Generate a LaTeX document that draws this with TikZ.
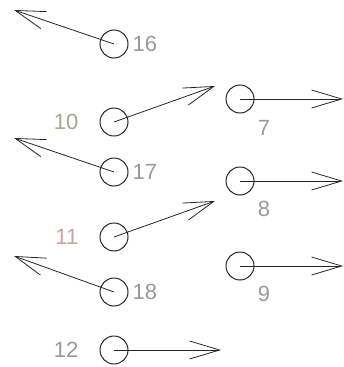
\documentclass[tikz,border=0pt]{standalone}
\usepackage{fontspec}
\setmainfont{Liberation Sans}
\usepackage{tikz}
\usetikzlibrary{positioning, arrows.meta}
\definecolor{numolive}{HTML}{A9A68E}
\definecolor{numrose}{HTML}{C9A3A0}

\begin{document}
\begin{tikzpicture}[
  x=1pt, y=-1pt,
  font=\fontsize{22}{24}\selectfont,
  pin/.style={draw=black!85, circle, line width=1pt, minimum size=28pt, inner sep=0pt},
  num/.style={text=black!40, inner sep=1pt},
  arr/.style={draw=black!85, line width=0.8pt, -{Straight Barb[length=30pt, width=18pt]}}
]
  \useasboundingbox (0,0) rectangle (344,367);

  % Lijevi stupac
  \node[pin] (p16) at (114,44) {};
  \node[pin] (p10) at (114,122) {};
  \node[pin] (p17) at (114,172) {};
  \node[pin] (p11) at (114,237) {};
  \node[pin] (p18) at (114,292) {};
  \node[pin] (p12) at (114,350) {};

  % Desni stupac
  \node[pin] (p7) at (240,99) {};
  \node[pin] (p8) at (240,181) {};
  \node[pin] (p9) at (240,266) {};

  % Oznake
  \node[num, right=3pt of p16] {16};
  \node[num, right=3pt of p17] {17};
  \node[num, right=3pt of p18] {18};
  \node[num, text=numolive, left=20pt of p10] {10};
  \node[num, text=numrose, left=20pt of p11] {11};
  \node[num, left=20pt of p12] {12};
  \node[num] (l7) at (264,128) {7};
  \node[num] (l8) at (264,209) {8};
  \node[num] (l9) at (264,294) {9};

  % Krajevi strelica
  \coordinate (e16) at (14,10);
  \coordinate (e10) at (215,86);
  \coordinate (e17) at (14,138);
  \coordinate (e11) at (215,201);
  \coordinate (e18) at (14,256);
  \coordinate (e12) at (221,350);
  \coordinate (e7) at (343,99);
  \coordinate (e8) at (343,181);
  \coordinate (e9) at (343,266);

  % Strelice
  \draw[arr] (p16.center) -- (e16);
  \draw[arr] (p10.center) -- (e10);
  \draw[arr] (p17.center) -- (e17);
  \draw[arr] (p11.center) -- (e11);
  \draw[arr] (p18.center) -- (e18);
  \draw[arr] (p12.center) -- (e12);
  \draw[arr] (p7.center) -- (e7);
  \draw[arr] (p8.center) -- (e8);
  \draw[arr] (p9.center) -- (e9);
\end{tikzpicture}
\end{document}
